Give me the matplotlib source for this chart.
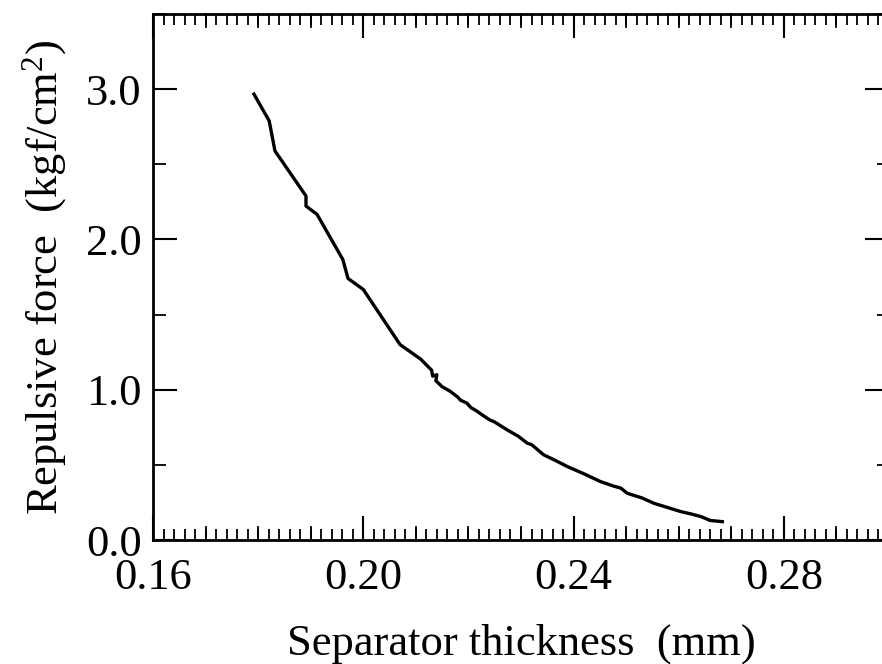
import matplotlib
matplotlib.use("Agg")
import matplotlib.pyplot as plt
from matplotlib.ticker import MultipleLocator

# Data
thickness = [0.1792, 0.1821, 0.1832, 0.1891, 0.1891, 0.1912, 0.1961, 0.1971,
             0.2000, 0.2070, 0.2109, 0.2130, 0.2132, 0.2140, 0.2138, 0.2150,
             0.2165, 0.2180, 0.2185, 0.2197, 0.2205, 0.2215, 0.2226, 0.2240,
             0.2250, 0.2258, 0.2275, 0.2295, 0.2312, 0.2320, 0.2343, 0.2365,
             0.2388, 0.2420, 0.2451, 0.2475, 0.2490, 0.2502, 0.2530, 0.2553,
             0.2580, 0.2604, 0.2625, 0.2642, 0.2660, 0.2683]
force = [2.967, 2.789, 2.589, 2.289, 2.222, 2.167, 1.867, 1.740,
         1.667, 1.300, 1.204, 1.130, 1.090, 1.100, 1.060, 1.020,
         0.990, 0.950, 0.930, 0.911, 0.880, 0.860, 0.833, 0.800,
         0.785, 0.767, 0.730, 0.690, 0.644, 0.635, 0.567, 0.530,
         0.489, 0.440, 0.389, 0.360, 0.345, 0.311, 0.280, 0.244,
         0.215, 0.189, 0.172, 0.156, 0.130, 0.122]

x_ticks = [0.16, 0.20, 0.24, 0.28]
x_tick_labels = ["0.16", "0.20", "0.24", "0.28"]
y_ticks = [0.0, 1.0, 2.0, 3.0]
y_tick_labels = ["0.0", "1.0", "2.0", "3.0"]
medium_x_ticks = [0.17, 0.18, 0.19, 0.21, 0.22, 0.23, 0.25, 0.26, 0.27, 0.29]

plt.rcParams['font.family'] = ['Liberation Serif', 'DejaVu Serif']
plt.rcParams['mathtext.fontset'] = 'custom'
plt.rcParams['mathtext.rm'] = 'Liberation Serif'
plt.rcParams['mathtext.it'] = 'Liberation Serif:italic'

fig = plt.figure(figsize=(8.82, 6.64), dpi=100)
W, H = 882, 664
left, right, top, bottom = 153, 889, 14, 540
ax = fig.add_axes([left / W, 1 - bottom / H, (right - left) / W, (bottom - top) / H])

ax.plot(thickness, force, color='black', lw=2.4, solid_joinstyle='round')

ax.set_xlim(0.16, 0.30)
ax.set_ylim(0.0, 3.5)
ax.set_xticks(x_ticks)
ax.set_xticklabels(x_tick_labels)
ax.set_yticks(y_ticks)
ax.set_yticklabels(y_tick_labels)
ax.xaxis.set_minor_locator(MultipleLocator(0.002))
ax.yaxis.set_minor_locator(MultipleLocator(0.5))

# medium ticks every 0.01 on x axes
for xv in medium_x_ticks:
    ax.plot([xv, xv], [0, 13 / 150], color='black', lw=1.3, clip_on=False)
    ax.plot([xv, xv], [3.5, 3.5 - 13 / 150], color='black', lw=1.3, clip_on=False)

ax.tick_params(axis='both', which='major', direction='in', length=17, width=1.5,
               labelsize=32, top=True, right=True)
ax.tick_params(axis='x', which='major', pad=13)
ax.tick_params(axis='y', which='major', pad=8)
ax.tick_params(axis='x', which='minor', direction='in', length=8, width=1.3,
               top=True, bottom=True)
ax.tick_params(axis='y', which='minor', direction='in', length=9, width=1.3,
               left=True, right=True)

for sp in ax.spines.values():
    sp.set_linewidth(2)

ax.set_xlabel('Separator thickness  (mm)', fontsize=32, labelpad=18)
ax.set_ylabel(r'Repulsive force  (kgf/cm$^{2}$)', fontsize=32, labelpad=12)

fig.savefig('out.png', dpi=100)
